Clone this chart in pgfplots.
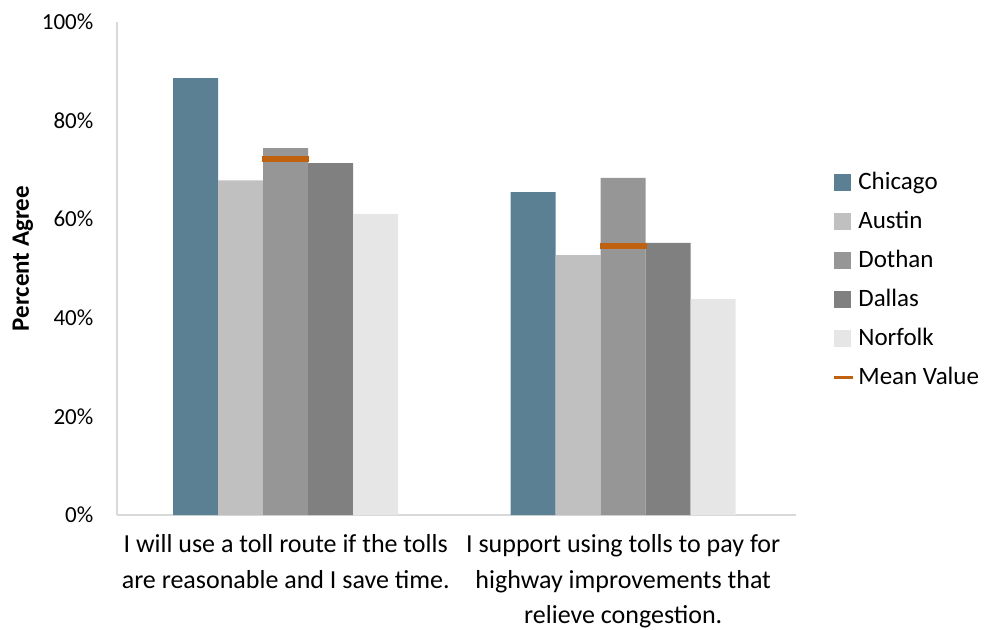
\documentclass[border=0pt]{standalone}
\usepackage{pgfplots}
\pgfplotsset{compat=1.18}
\usepackage{fontspec}
\setmainfont{Carlito}

\definecolor{chicago}{HTML}{5B7F93}
\definecolor{austin}{HTML}{C0C0C0}
\definecolor{dothan}{HTML}{969696}
\definecolor{dallas}{HTML}{808080}
\definecolor{norfolk}{HTML}{E6E6E6}
\definecolor{meanorange}{HTML}{C0610F}
\definecolor{axisgray}{HTML}{D9D9D9}

% Percent agreeing, per city; x = 0 (toll route use), 1 (tolls for improvements)
\pgfplotstableread{
x  chicago austin dothan dallas norfolk mean
0  88.6    67.9   74.4   71.4   61.1    72.2
1  65.5    52.7   68.4   55.2   43.8    54.6
}\tolldata

\pgfplotsset{
  citybar/.style={
    ybar, bar width=22.5pt, draw=none, fill=#1,
    legend image code/.code={\fill[#1] (0pt,-4.25pt) rectangle (8.5pt,4.25pt);}
  }
}

\begin{document}
\begin{tikzpicture}
\begin{axis}[
  scale only axis,
  width=339.5pt, height=246.5pt,
  xmin=-0.5, xmax=1.512,
  ymin=0, ymax=100,
  axis x line=bottom, axis y line=left,
  axis line style={-, draw=axisgray, line width=0.8pt},
  tick style={draw=none},
  xtick={0,1},
  xticklabels={
    {I will use a toll route if the tolls\\[0.8pt]are reasonable and I save time.},
    {I support using tolls to pay for\\[0.8pt]highway improvements that\\[0.8pt]relieve congestion.}
  },
  xticklabel style={align=center, font=\fontsize{13}{17}\selectfont, yshift=-4pt},
  ytick={0,20,40,60,80,100},
  yticklabels={0\%,20\%,40\%,60\%,80\%,100\%},
  yticklabel style={font=\fontsize{11.5}{14}\selectfont, anchor=east, inner sep=0pt, xshift=-9.5pt},
  ylabel={Percent Agree},
  ylabel style={at={(axis description cs:-0.1385,0.52)}, anchor=center, rotate=0,
    font=\fontsize{12.5}{15}\selectfont\bfseries},
  legend style={draw=none, fill=none, at={(1.053,0.477)}, anchor=west,
    inner sep=0pt, row sep=5.3pt, font=\fontsize{12.5}{15}\selectfont,
    nodes={inner sep=2pt}},
  legend cell align=left,
]
\addplot[citybar=chicago, bar shift=-45pt]  table[x=x, y=chicago] {\tolldata};
\addplot[citybar=austin,  bar shift=-22.5pt] table[x=x, y=austin] {\tolldata};
\addplot[citybar=dothan,  bar shift=0pt]    table[x=x, y=dothan] {\tolldata};
\addplot[citybar=dallas,  bar shift=22.5pt] table[x=x, y=dallas] {\tolldata};
\addplot[citybar=norfolk, bar shift=45pt]   table[x=x, y=norfolk] {\tolldata};
\addplot[only marks, mark=-, mark size=11.75pt,
  mark options={draw=meanorange, line width=3pt},
  legend image code/.code={\draw[meanorange, line width=1.5pt] (0pt,0pt) -- (9.5pt,0pt);}]
  table[x=x, y=mean] {\tolldata};
\legend{Chicago, Austin, Dothan, Dallas, Norfolk, Mean Value}
\end{axis}
\pgfresetboundingbox
\path (-58.5pt,-57pt) rectangle (433.5pt,257.5pt);
\end{tikzpicture}
\end{document}
